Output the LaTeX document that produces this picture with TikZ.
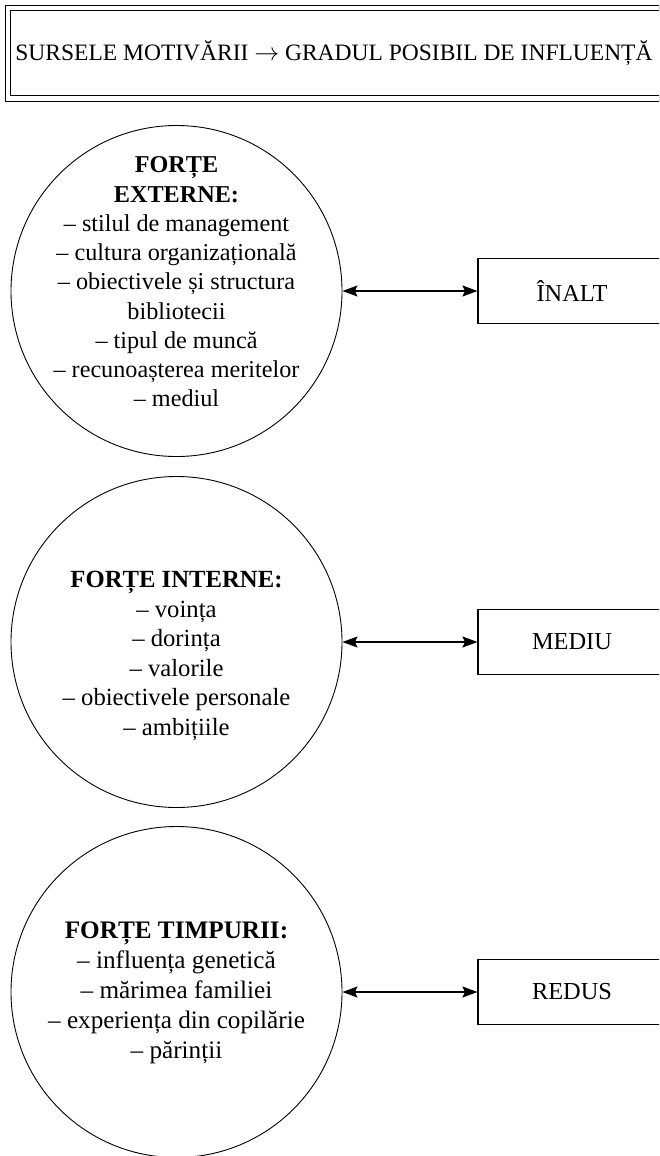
\documentclass[tikz,border=0pt]{standalone}
\usepackage{fontspec}
\setmainfont{Liberation Serif}
\usetikzlibrary{arrows.meta}
\begin{document}
\begin{tikzpicture}[x=1pt,y=-1pt,
  forcecircle/.style={circle,draw,line width=0.9pt,minimum size=331pt,inner sep=0pt},
  forcetext/.style={align=center,inner sep=0pt},
  levelbox/.style={rectangle,draw,line width=1.1pt,minimum width=188pt,minimum height=65pt,font=\fontsize{24.4}{29}\selectfont},
  link/.style={arrows={Stealth[length=15pt,width=11pt,inset=2.5pt]-Stealth[length=15pt,width=11pt,inset=2.5pt]},line width=1.2pt},
  titleframe/.style={draw,double,double distance=4.2pt,line width=1.1pt,minimum width=680pt,minimum height=90.5pt,anchor=west,inner sep=0pt},
]
\useasboundingbox (0,0) rectangle (659,1156);
\clip (0,0) rectangle (659,1156);

% title
\node[titleframe] (frame) at (7.7,53.2) {};
\node[font=\fontsize{23.5}{28}\selectfont] (title) at (334,53.5) {SURSELE MOTIVĂRII \ensuremath{\rightarrow} GRADUL POSIBIL DE INFLUENȚĂ};

% circles
\node[forcecircle] (c1) at (176.5,291) {};
\node[forcecircle] (c2) at (176.5,642) {};
\node[forcecircle] (c3) at (176.5,992) {};

\node[forcetext,font=\fontsize{24.2}{29.25}\selectfont] (t1) at (176.5,282) {\textbf{FORȚE}\\\textbf{EXTERNE:}\\– stilul de management\\– cultura organizațională\\– obiectivele și structura\\bibliotecii\\– tipul de muncă\\– recunoașterea meritelor\\– mediul};
\node[forcetext,font=\fontsize{24.7}{29.6}\selectfont] (t2) at (176.5,656) {\textbf{FORȚE INTERNE:}\\– voința\\– dorința\\– valorile\\– obiectivele personale\\– ambițiile};
\node[forcetext,font=\fontsize{25.2}{30}\selectfont] (t3) at (176.5,993) {\textbf{FORȚE TIMPURII:}\\– influența genetică\\– mărimea familiei\\– experiența din copilărie\\– părinții};

% level boxes
\node[levelbox] (b1) at (572,291) {ÎNALT};
\node[levelbox] (b2) at (572,642) {MEDIU};
\node[levelbox] (b3) at (572,992) {REDUS};

% connectors
\draw[link] (c1.east) -- (b1.west);
\draw[link] (c2.east) -- (b2.west);
\draw[link] (c3.east) -- (b3.west);
\end{tikzpicture}
\end{document}
